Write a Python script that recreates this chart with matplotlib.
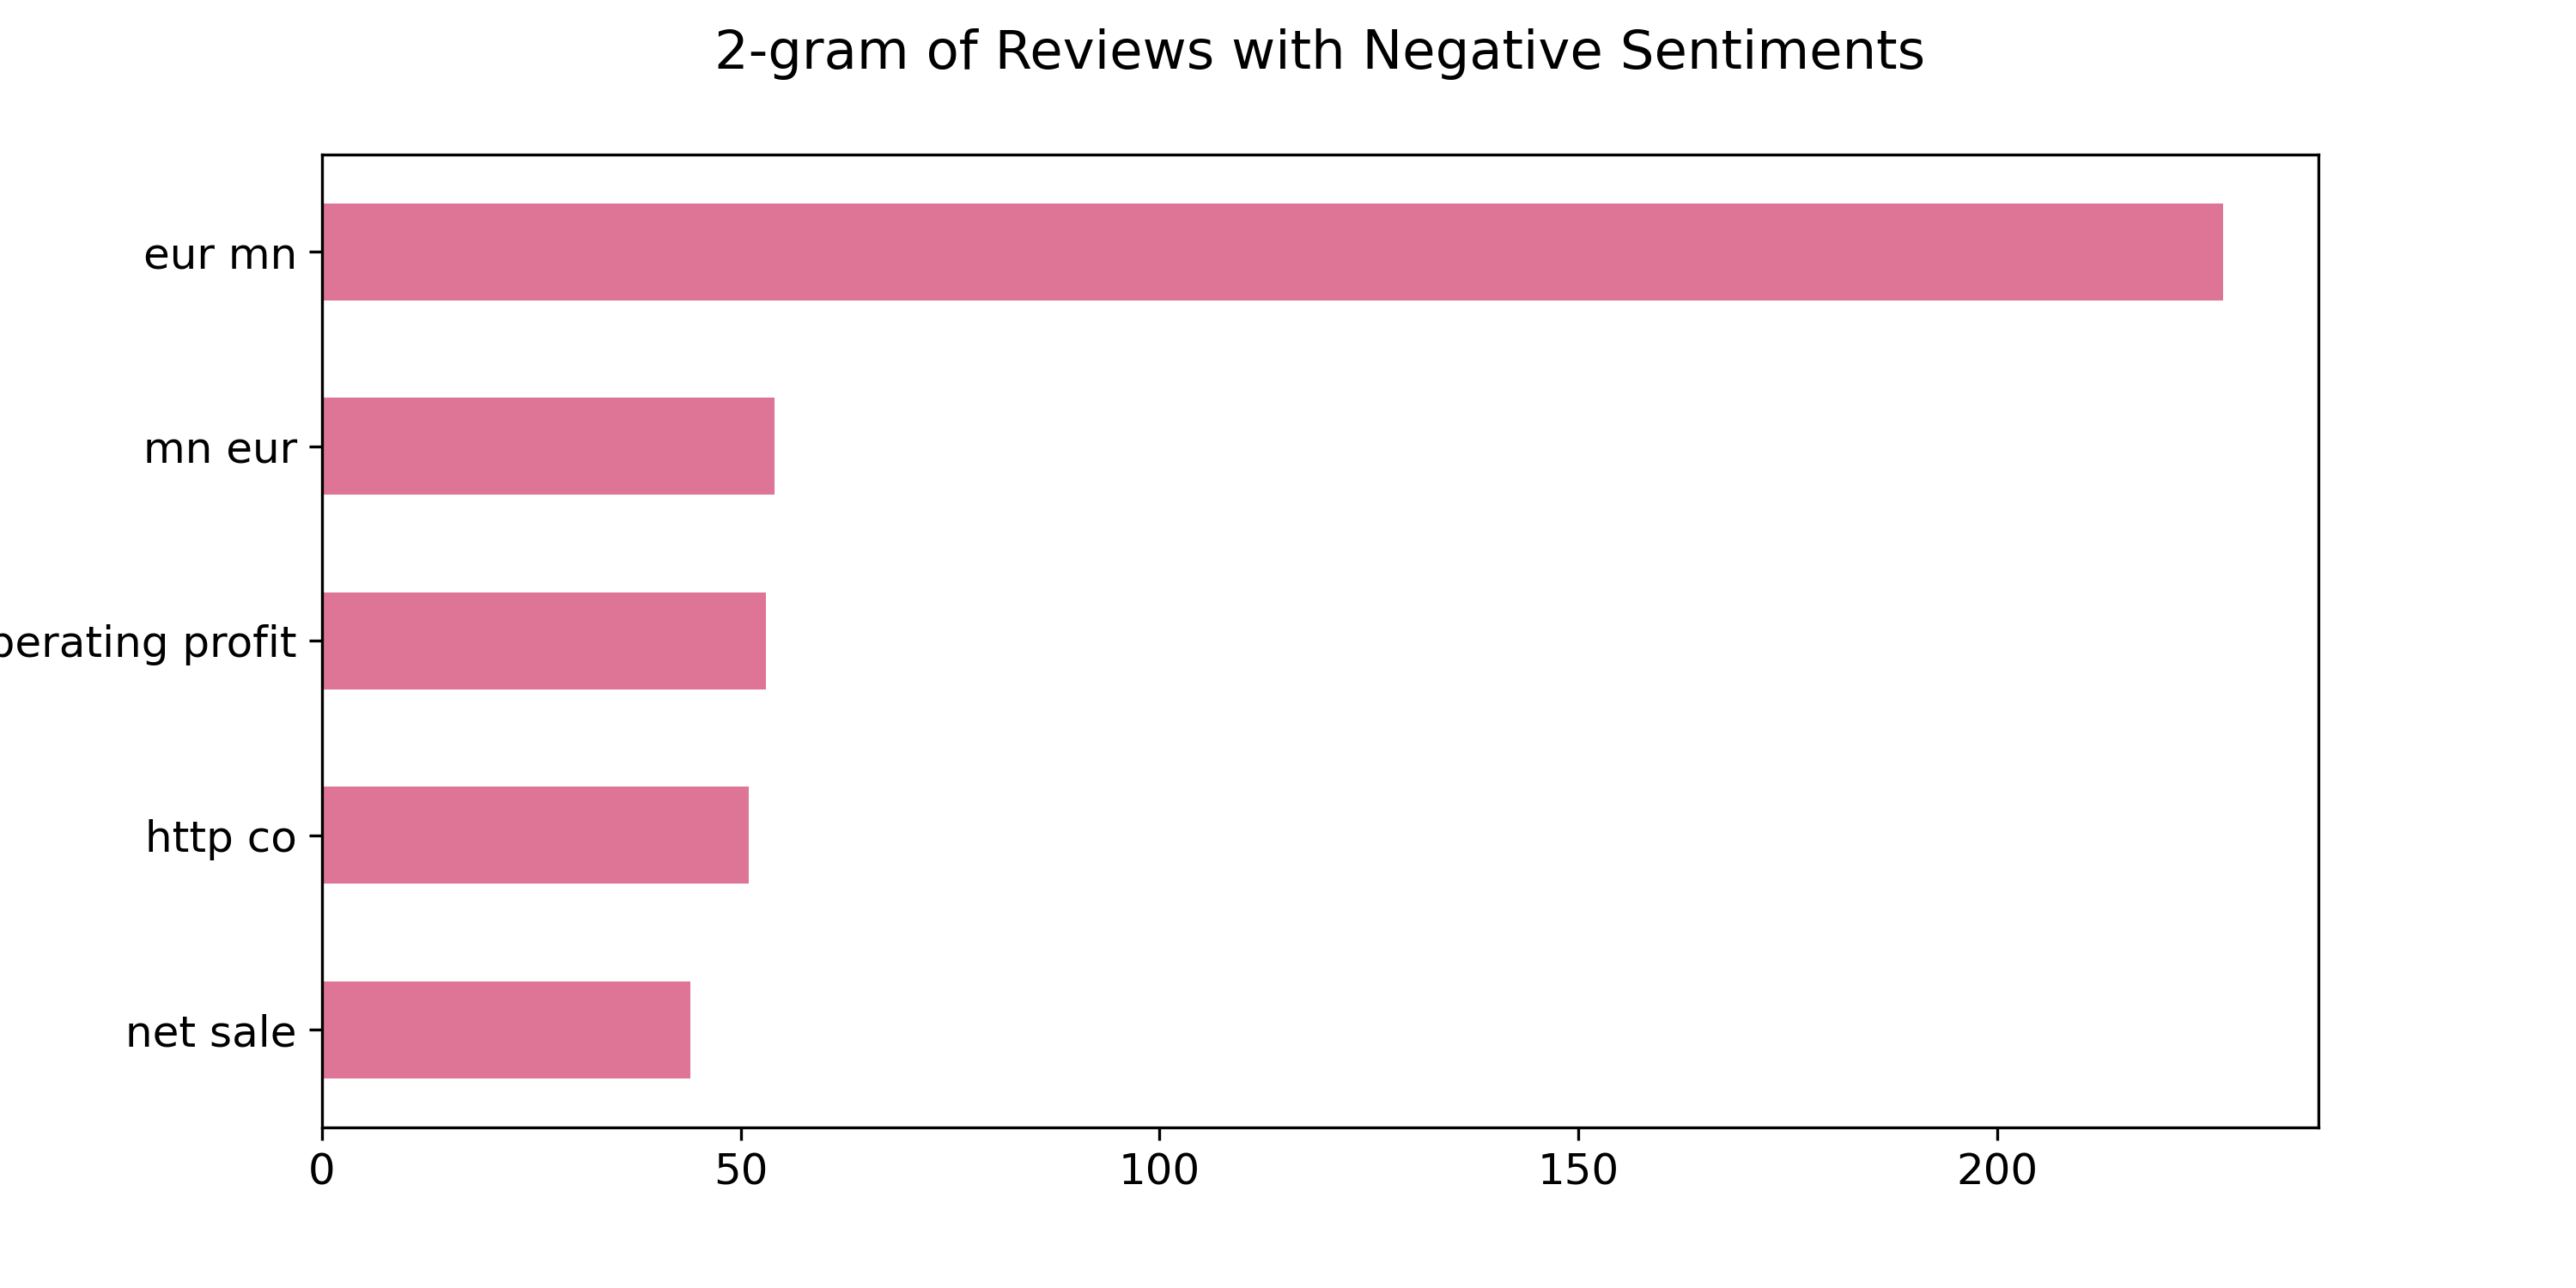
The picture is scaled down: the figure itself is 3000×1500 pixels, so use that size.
import matplotlib
matplotlib.use("Agg")
import matplotlib.pyplot as plt

categories = ["eur mn", "mn eur", "operating profit", "http co", "net sale"]
counts = [227, 54, 53, 51, 44]

fig, ax = plt.subplots(figsize=(10, 5), dpi=300)
fig.subplots_adjust(left=0.125, right=0.9, top=0.88, bottom=0.125)
ax.barh(categories[::-1], counts[::-1], height=0.5, color="#df7596")
ax.set_ylim(-0.5, len(categories) - 0.5)
ax.tick_params(labelsize=12)
ax.set_title("2-gram of Reviews with Negative Sentiments", fontsize=15, pad=24)
ax.set_xlabel("Total Counts", fontsize=15, labelpad=28)
fig.savefig("out.png")
